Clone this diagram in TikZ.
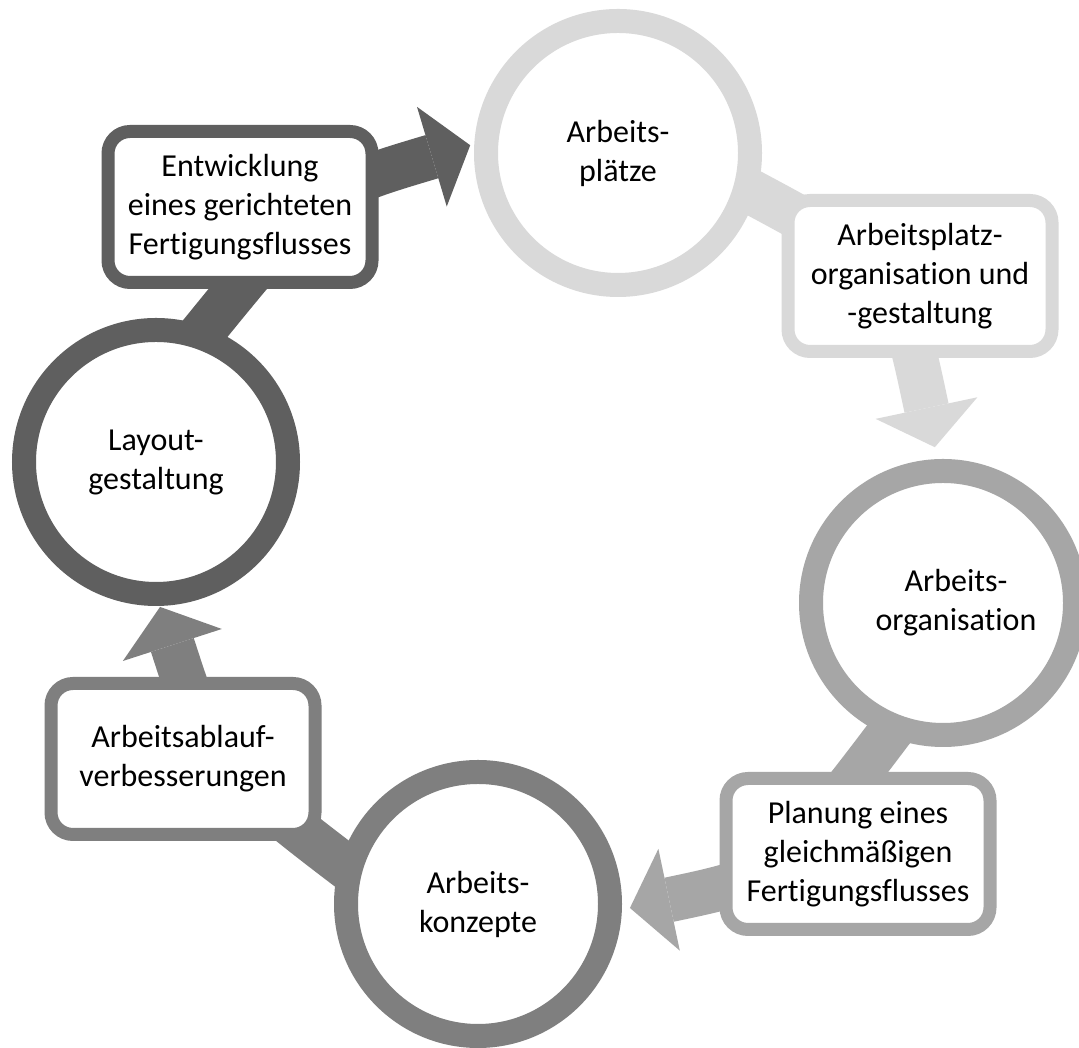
\documentclass[tikz,border=0pt]{standalone}
\usepackage{fontspec}
\setmainfont{Carlito}[Ligatures=NoCommon]
\usetikzlibrary{arrows.meta}
\definecolor{tonea}{RGB}{95,95,95}
\definecolor{toneb}{RGB}{217,217,217}
\definecolor{tonec}{RGB}{166,166,166}
\definecolor{toned}{RGB}{127,127,127}
\pgfdeclarelayer{back}
\pgfsetlayers{back,main}

\begin{document}
\begin{tikzpicture}[x=1pt,y=1pt,
    txt/.style={align=center,text=black,font=\fontsize{32}{39}\selectfont},
    ring/.style={txt,circle,line width=24pt,fill=white,minimum size=264pt,inner sep=0pt},
    card/.style={txt,rectangle,rounded corners=22pt,line width=13pt,fill=white,minimum width=264pt,minimum height=151pt,inner sep=0pt},
    flow/.style={line width=45pt,-{Triangle[length=40pt,width=104pt,line width=0pt]}}]
    \useasboundingbox (0,0) rectangle (1079,1048);
    \node[ring,draw=tonea] (layout) at (156,586) {Layout-\\gestaltung};
    \node[ring,draw=toneb] (plaetze) at (618,895) {Arbeits-\\plätze};
    \node[ring,draw=tonec] (organisation) at (943,445) {};
    \node[txt] at ([xshift=13pt]organisation.center) {Arbeits-\\organisation};
    \node[ring,draw=toned] (konzepte) at (478,144) {Arbeits-\\konzepte};
    \node[card,draw=tonea] (entwicklung) at (240,841) {Entwicklung\\eines gerichteten\\Fertigungsflusses};
    \node[card,draw=toneb] (platzorg) at (920,772) {Arbeitsplatz-\\organisation und\\-gestaltung};
    \node[card,draw=tonec] (planung) at (858,194) {Planung eines\\gleichmäßigen\\Fertigungsflusses};
    \node[card,draw=toned] (ablauf) at (183,289) {Arbeitsablauf-\\verbesserungen};
    \begin{pgfonlayer}{back}
        \fill[white] (0,0) rectangle (1079,1048);
        \draw[flow,tonea] ([shift={(73:122)}]layout.center) .. controls (317,857) and (317,857) .. ([shift={(177:148)}]plaetze.center);
        \draw[flow,toneb] ([shift={(-12.7:107)}]plaetze.center) .. controls (897,779) and (897,779) .. ([shift={(93:156)}]organisation.center);
        \draw[flow,tonec] ([shift={(254:99)}]organisation.center) .. controls (782,172) and (782,172) .. ([shift={(-1.5:152)}]konzepte.center);
        \draw[flow,toned] ([shift={(189:69)}]konzepte.center) .. controls (211.5,282) and (211.5,282) .. ([shift={(-88.4:145)}]layout.center);
    \end{pgfonlayer}
\end{tikzpicture}
\end{document}
